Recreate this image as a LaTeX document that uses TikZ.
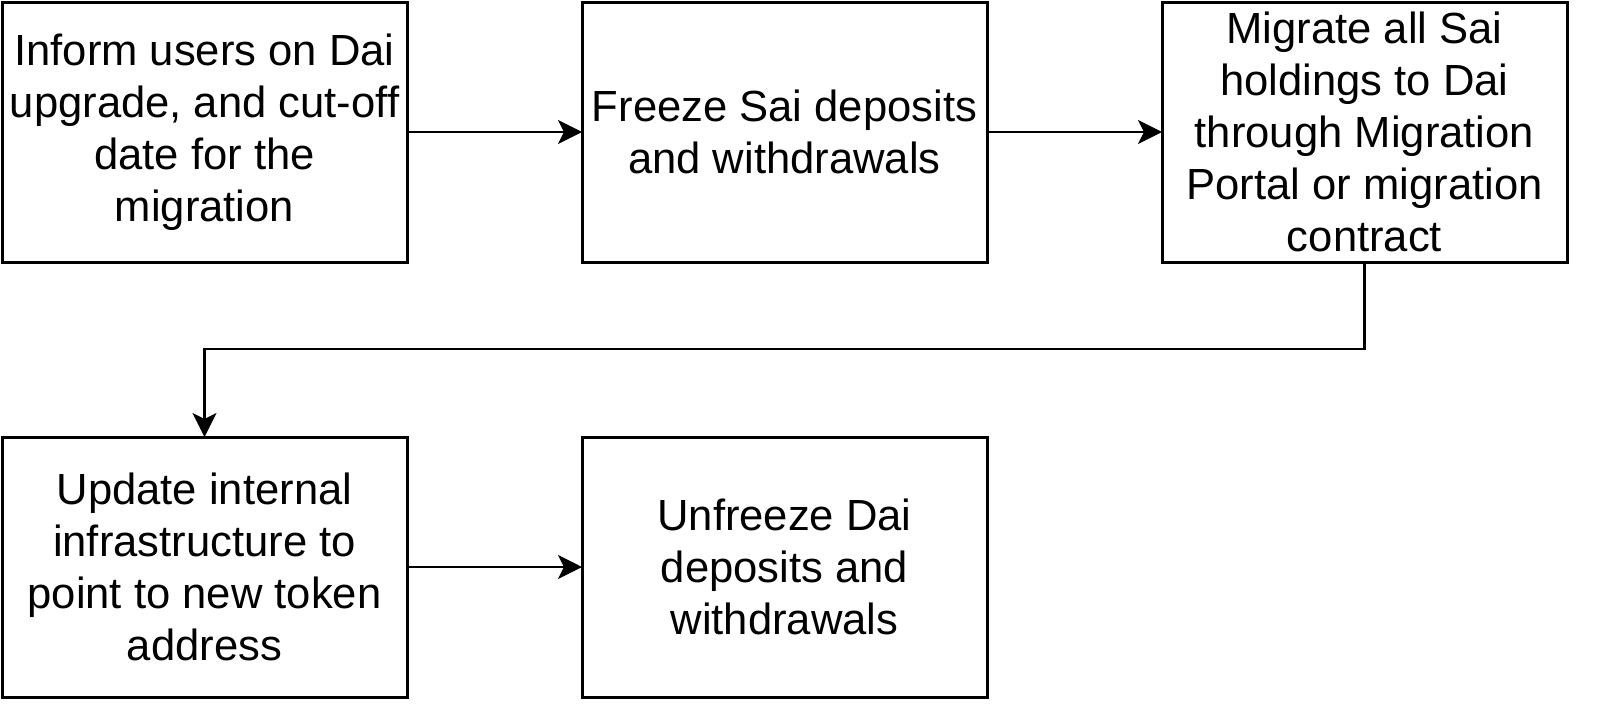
\documentclass[tikz,border=0pt]{standalone}
\usepackage{fontspec}
\setmainfont{Liberation Sans}
\usetikzlibrary{positioning,arrows.meta}
\tikzset{
  stepbox/.style={draw, line width=1.5pt, minimum width=202.5pt, minimum height=130pt,
    align=center, inner sep=0pt, outer sep=0pt, font=\fontsize{21.8}{26}\selectfont},
  flow/.style={-{Stealth[length=12pt,width=12pt,inset=3pt]}, line width=1.4pt}
}
\begin{document}
\begin{tikzpicture}[node distance=87.5pt]
  \useasboundingbox (0,0) rectangle (800pt,-356.5pt);
  % top row
  \node[stepbox] (inform) at (102.25pt,-66pt) {Inform users on Dai\\upgrade, and cut-off\\date for the\\migration};
  \node[stepbox, right=of inform] (freeze) {Freeze Sai deposits\\and withdrawals};
  \node[stepbox, right=of freeze] (migrate) {Migrate all Sai\\holdings to Dai\\through Migration\\Portal or migration\\contract};
  % bottom row
  \node[stepbox, below=of inform] (update) {Update internal\\infrastructure to\\point to new token\\address};
  \node[stepbox, right=of update] (unfreeze) {Unfreeze Dai\\deposits and\\withdrawals};
  % connectors
  \draw[flow] (inform) -- (freeze);
  \draw[flow] (freeze) -- (migrate);
  \draw[flow] (migrate.south) -- ++(0,-43.5pt) -| (update.north);
  \draw[flow] (update) -- (unfreeze);
\end{tikzpicture}
\end{document}
